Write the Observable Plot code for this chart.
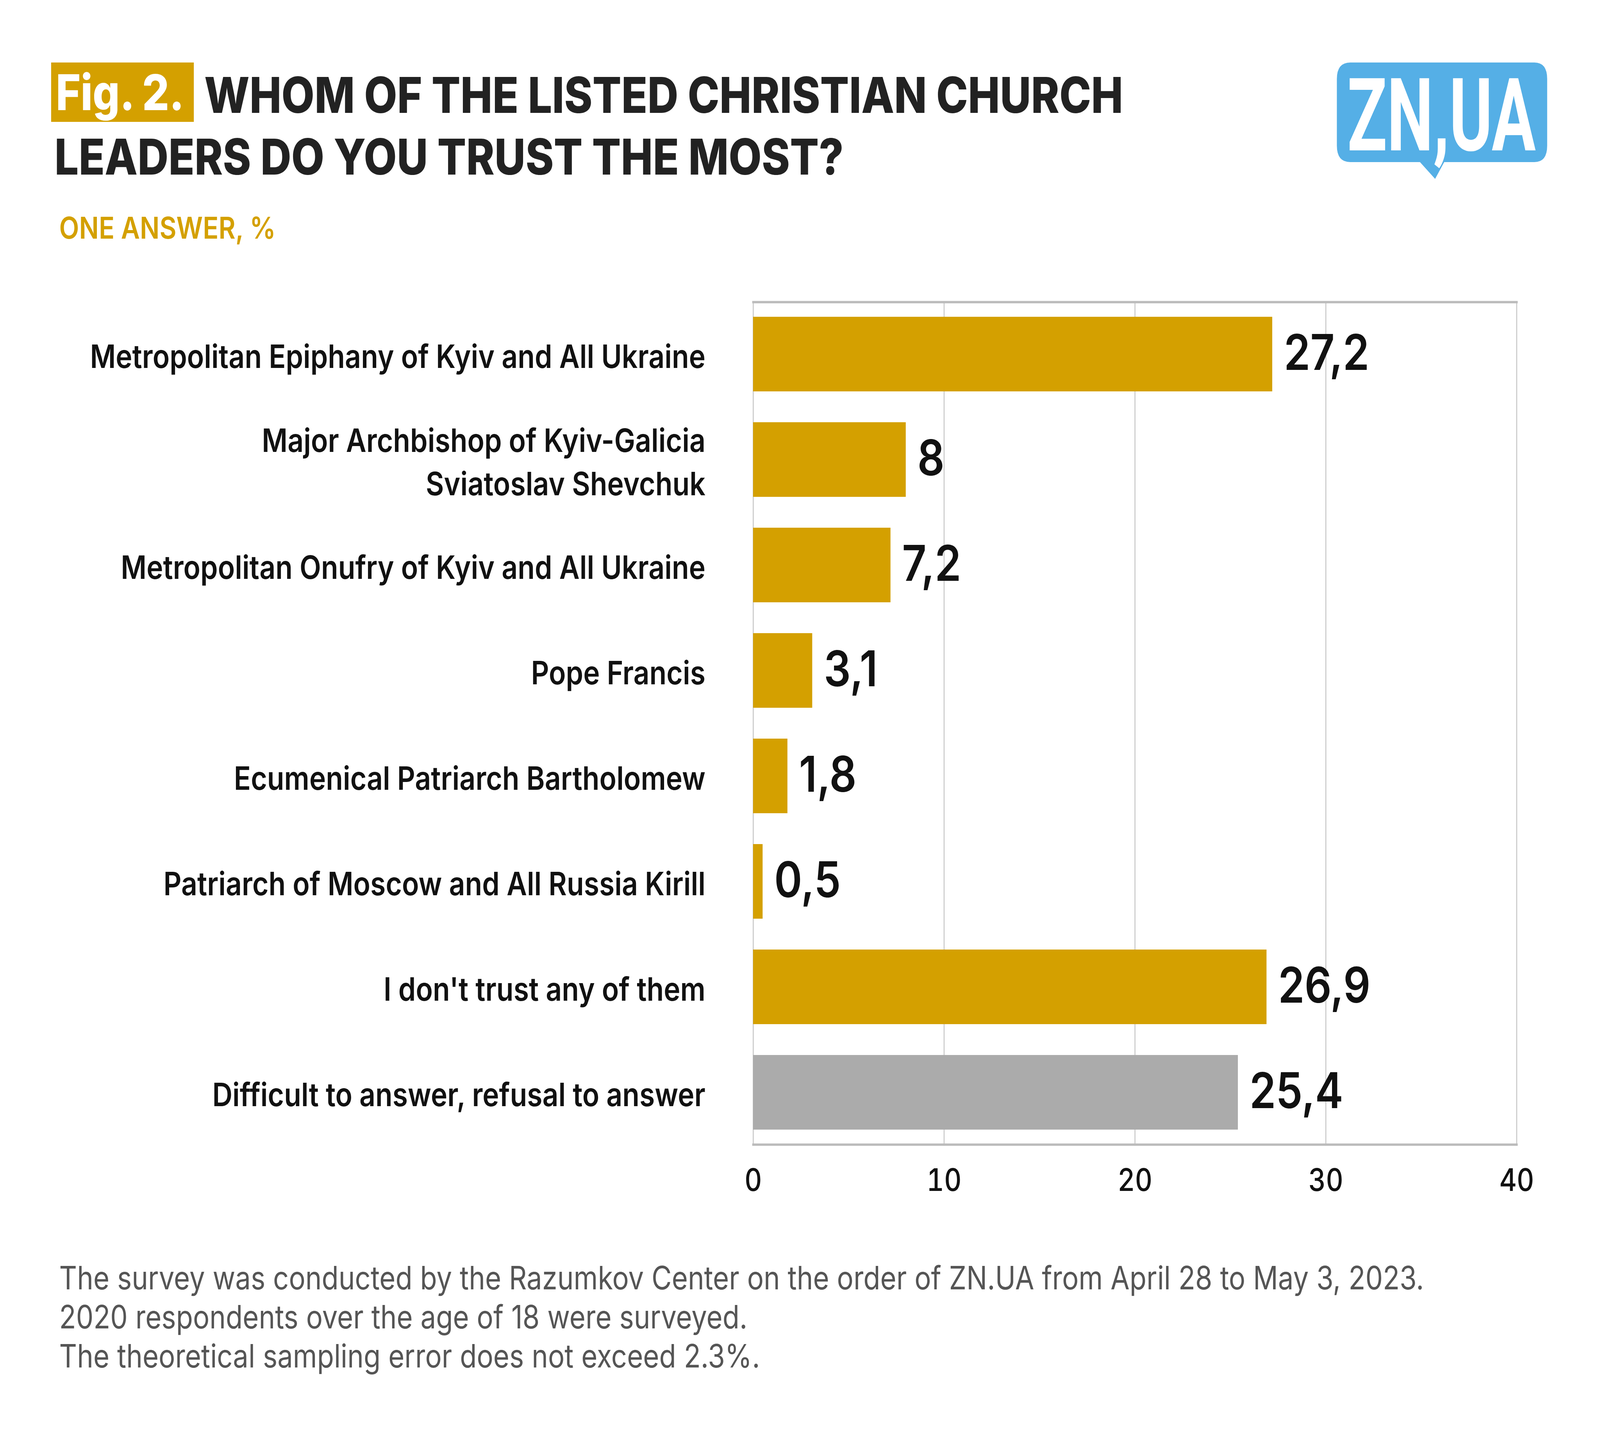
<!DOCTYPE html>
<html>
<head>
<meta charset="utf-8">
<script src="https://cdn.jsdelivr.net/npm/d3@7"></script>
<script src="https://cdn.jsdelivr.net/npm/@observablehq/plot@0.6"></script>
<style>
  html, body { margin: 0; padding: 0; background: #fff; overflow: hidden; }
  #wrap { position: relative; overflow: hidden; width: 4755px; height: 3679px; }
  #page { position: absolute; left: 0; top: 0; width: 4755px; height: 3679px; background: #fff; font-family: Inter, "Noto Sans", sans-serif; overflow: hidden; transform-origin: 0 0; }
  .abs { position: absolute; white-space: nowrap; }
  #figbox { left: 152px; top: 160px; width: 424px; height: 152px; background: #D4A000; }
  #figtxt { left: 166px; top: 160px; height: 152px; line-height: 152px; color: #fff; font-size: 126px; font-weight: 800; }
  .title { color: #222; font-size: 127px; font-weight: 800; }
  #sub { left: 176px; top: 536px; color: #D4A000; font-size: 77px; font-weight: 600; }
  #foot { left: 176px; top: 3222px; color: #555; font-size: 82px; font-weight: 400; line-height: 100px; white-space: pre; }
  #chart { left: 0; top: 700px; }
  #logo { left: 3960px; top: 150px; overflow: visible; }
</style>
</head>
<body>
<div id="wrap">
<div id="page">
  <div id="figbox" class="abs"></div>
  <div id="figtxt" class="abs">Fig. 2.</div>
  <div class="abs title" style="left:607px; top:166px;">WHOM OF THE LISTED CHRISTIAN CHURCH</div>
  <div class="abs title" style="left:162px; top:324px;">LEADERS DO YOU TRUST THE MOST?</div>
  <div id="sub" class="abs">ONE ANSWER, %</div>
  <svg id="logo" class="abs" width="700" height="320" viewBox="0 0 700 320">
    <path d="M53,10 H600 Q638,10 638,52 V223 Q638,265 600,265 H332 L305,308 L260,265 H53 Q13,265 13,223 V52 Q13,10 53,10 Z" fill="#55AFE6"/>
    <text x="44" y="235" fill="#fff" font-family="Roboto, sans-serif" font-weight="700" font-size="260" textLength="560" lengthAdjust="spacingAndGlyphs">ZN,UA</text>
  </svg>
  <div id="chart" class="abs"></div>
  <div id="foot" class="abs">The survey was conducted by the Razumkov Center on the order of ZN.UA from April 28 to May 3, 2023.
2020 respondents over the age of 18 were surveyed.
The theoretical sampling error does not exceed 2.3%.</div>
</div>
</div>
<script>
const categories = [
  "Metropolitan Epiphany of Kyiv and All Ukraine",
  "Major Archbishop of Kyiv-Galicia\nSviatoslav Shevchuk",
  "Metropolitan Onufry of Kyiv and All Ukraine",
  "Pope Francis",
  "Ecumenical Patriarch Bartholomew",
  "Patriarch of Moscow and All Russia Kirill",
  "I don't trust any of them",
  "Difficult to answer, refusal to answer"
];
const values = [27.2, 8, 7.2, 3.1, 1.8, 0.5, 26.9, 25.4];
const groups = ["leader", "leader", "leader", "leader", "leader", "leader", "leader", "none"];
const xTicks = [0, 10, 20, 30, 40];

const data = categories.map((c, i) => ({category: c, value: values[i], group: groups[i]}));
const fmt = v => String(v).replace(".", ",");

const chart = Plot.plot({
  width: 4755,
  height: 2430,
  marginLeft: 2238,
  marginRight: 248,
  marginTop: 73,
  marginBottom: 200,
  style: {fontFamily: "Inter, 'Noto Sans', sans-serif", background: "transparent", overflow: "visible"},
  x: {domain: [0, 40], ticks: xTicks, label: null},
  y: {domain: categories, label: null, paddingInner: 0.293, paddingOuter: 0.14},
  color: {domain: ["leader", "none"], range: ["#D4A000", "#ABABAB"]},
  marks: [
    Plot.gridX(xTicks, {stroke: "#c8c8c8", strokeOpacity: 1, strokeWidth: 3}),
    Plot.frame({anchor: "top", stroke: "#bbbbbb", strokeWidth: 6}),
    Plot.frame({anchor: "bottom", stroke: "#bbbbbb", strokeWidth: 6}),
    Plot.barX(data, {x: "value", y: "category", fill: "group"}),
    Plot.text(data, {x: "value", y: "category", text: d => fmt(d.value), textAnchor: "start", dx: 34, fontSize: 126, fontWeight: 600, fill: "#111"}),
    Plot.axisX(xTicks, {tickSize: 0, tickPadding: 62, fontSize: 80, fontWeight: 500, fill: "#111", label: null}),
    Plot.axisY({tickSize: 0, tickPadding: 142, fontSize: 83, fontWeight: 600, fill: "#111", lineHeight: 1.33, label: null})
  ]
});
document.getElementById("chart").appendChild(chart);

// Fit the 4755×3679 layout to the actual viewport (the browser may cap its width).
function fit() {
  const sx = Math.min(window.innerWidth / 4755, 1);
  const sy = Math.min(window.innerHeight / 3679, 1);
  document.getElementById("page").style.transform = `scale(${sx}, ${sy})`;
  const w = document.getElementById("wrap");
  w.style.width = (4755 * sx) + "px";
  w.style.height = (3679 * sy) + "px";
}
fit();
window.addEventListener("resize", fit);
</script>
</body>
</html>
